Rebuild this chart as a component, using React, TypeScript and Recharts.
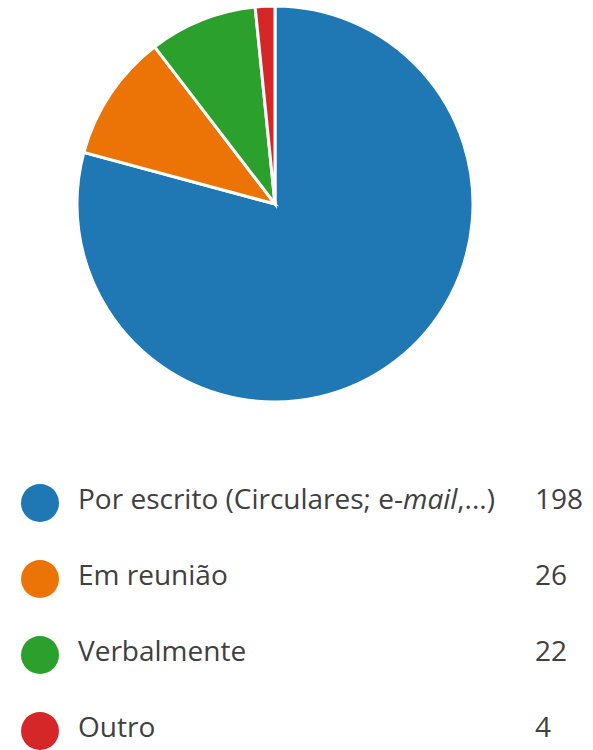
import React from "react";
import { PieChart, Pie, Cell, Legend } from "recharts";

const categories = ["Por escrito (Circulares; e-mail,...)", "Em reunião", "Verbalmente", "Outro"];
const values = [198, 26, 22, 4];
const colors = ["#1f77b4", "#ec7306", "#2ca02c", "#d62728"];

const data = categories.map((name, i) => ({ name, value: values[i] }));

function renderLabel(name: string) {
  if (name.startsWith("Por escrito")) {
    return (
      <span>
        Por escrito (Circulares; e-<i>mail</i>,...)
      </span>
    );
  }
  return <span>{name}</span>;
}

const LegendContent = () => (
  <div style={{ fontFamily: "'Open Sans', sans-serif", fontSize: 28, color: "#404040" }}>
    {data.map((d, i) => (
      <div key={d.name} style={{ position: "relative", height: 76 }}>
        <div
          style={{
            position: "absolute",
            left: 21,
            top: 0,
            width: 38,
            height: 38,
            borderRadius: "50%",
            background: colors[i],
          }}
        />
        <div style={{ position: "absolute", left: 78, top: -5, lineHeight: "38px", whiteSpace: "nowrap" }}>
          {renderLabel(d.name)}
        </div>
        <div style={{ position: "absolute", left: 535, top: -5, lineHeight: "38px" }}>{d.value}</div>
      </div>
    ))}
  </div>
);

export default function App() {
  return (
    <div style={{ position: "absolute", left: 0, top: 0, width: 593, height: 750, background: "#fff", overflow: "hidden" }}>
      <PieChart width={593} height={750} margin={{ top: 0, right: 0, bottom: 0, left: 0 }}>
        <Pie
          data={data}
          dataKey="value"
          nameKey="name"
          cx={275}
          cy={204}
          outerRadius={198}
          startAngle={90}
          endAngle={-270}
          stroke="#fff"
          strokeWidth={3}
          isAnimationActive={false}
        >
          {data.map((d, i) => (
            <Cell key={d.name} fill={colors[i]} />
          ))}
        </Pie>
        <Legend
          content={<LegendContent />}
          wrapperStyle={{ position: "absolute", left: 0, top: 484, width: 593 }}
        />
      </PieChart>
    </div>
  );
}
